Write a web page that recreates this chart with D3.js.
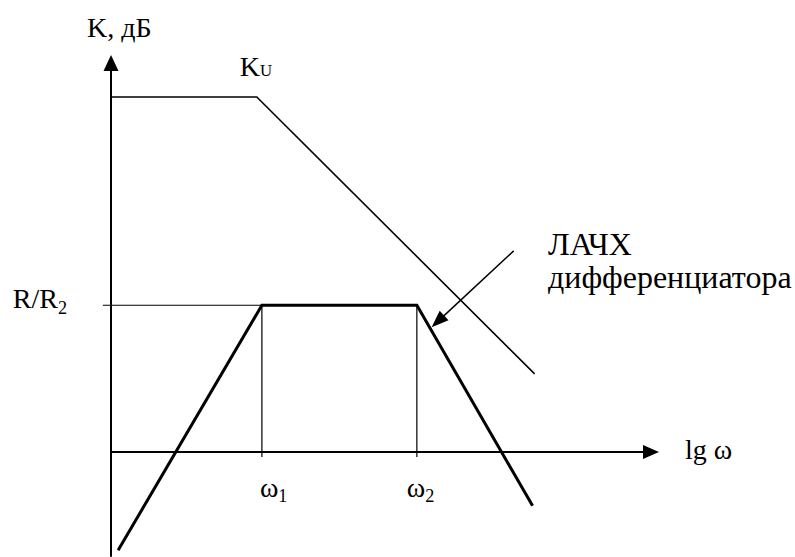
<!DOCTYPE html>
<html><head><meta charset="utf-8">
<script src="https://cdn.jsdelivr.net/npm/d3@7/dist/d3.min.js"></script>
<style>html,body{margin:0;padding:0;background:#fff;} text{font-family:"Liberation Serif","Times New Roman",serif;fill:#000;}</style>
</head><body>
<svg id="c" width="795" height="557"></svg>
<script>
// ---- data (abstract units: x = lg ω, y = K, dB) ----
const xAxisRange = [0, 10.75];
const yAxisRange = [-17.7, 67.1];
const omegaTicks = [2.96, 6.0];
const omegaLabels = ["1", "2"];
const kuLevel = 60;
const rrLevel = 24.8;
const kuLineX = [0, 2.86, 8.31];
const kuLineY = [60, 60, 13.2];
const lachX = [0.14, 2.96, 6.0, 8.27];
const lachY = [-16.6, 24.8, 24.8, -9.1];
const arrowFrom = [7.9, 34.0];
const arrowTo = [6.29, 21.1];

const svg = d3.select("#c");
const x = d3.scaleLinear().domain([0, 10.75]).range([111, 659]);
const y = d3.scaleLinear().domain([0, 67.1]).range([452, 55]);

function arrowHead(tip, angle, len, half) {
  const ca = Math.cos(angle), sa = Math.sin(angle);
  const bx = tip[0] - len * ca, by = tip[1] - len * sa;
  return [[tip[0], tip[1]], [bx - half * sa, by + half * ca], [bx + half * sa, by - half * ca]];
}
const tri = d3.line();

// y axis
svg.append("line").attr("x1", x(0)).attr("x2", x(0))
  .attr("y1", y(yAxisRange[0])).attr("y2", y(yAxisRange[1]) + 10)
  .attr("stroke", "#000").attr("stroke-width", 2);
svg.append("path").attr("d", tri(arrowHead([x(0), y(yAxisRange[1])], -Math.PI / 2, 16, 7.5)) + "Z").attr("fill", "#000");
// x axis
svg.append("line").attr("x1", x(0)).attr("x2", x(xAxisRange[1]) - 10)
  .attr("y1", y(0)).attr("y2", y(0)).attr("stroke", "#000").attr("stroke-width", 2);
svg.append("path").attr("d", tri(arrowHead([x(xAxisRange[1]), y(0)], 0, 16, 7)) + "Z").attr("fill", "#000");

// R/R2 level thin line with tick
svg.append("line").attr("x1", x(-0.16)).attr("x2", x(omegaTicks[0]) + 8)
  .attr("y1", y(rrLevel)).attr("y2", y(rrLevel)).attr("stroke", "#000").attr("stroke-width", 1.2);
// omega verticals
svg.selectAll(".om").data(omegaTicks).join("line")
  .attr("x1", d => x(d)).attr("x2", d => x(d))
  .attr("y1", y(rrLevel)).attr("y2", y(-0.85))
  .attr("stroke", "#000").attr("stroke-width", 1.2);

// K_U line
svg.append("path").datum(kuLineX.map((v, i) => [x(v), y(kuLineY[i])]))
  .attr("d", d3.line()).attr("fill", "none").attr("stroke", "#000").attr("stroke-width", 1.6);

// LACH differentiator (thick)
svg.append("path").datum(lachX.map((v, i) => [x(v), y(lachY[i])]))
  .attr("d", d3.line()).attr("fill", "none").attr("stroke", "#000").attr("stroke-width", 3).attr("stroke-linejoin", "miter");

// annotation arrow
const a0 = [x(arrowFrom[0]), y(arrowFrom[1])], a1 = [x(arrowTo[0]), y(arrowTo[1])];
const ang = Math.atan2(a1[1] - a0[1], a1[0] - a0[0]);
svg.append("line").attr("x1", a0[0]).attr("y1", a0[1])
  .attr("x2", a1[0] - 10 * Math.cos(ang)).attr("y2", a1[1] - 10 * Math.sin(ang))
  .attr("stroke", "#000").attr("stroke-width", 1.5);
svg.append("path").attr("d", tri(arrowHead(a1, ang, 17, 6.5)) + "Z").attr("fill", "#000");

// labels
const fs = 28;
const ff = "Liberation Serif";
function T(sel) { return sel.append("text").attr("font-family", ff).attr("font-size", fs); }
T(svg).attr("x", x(0) - 24).attr("y", 37).text("K, дБ");
const ku = T(svg).attr("x", x(kuLineX[1]) - 17).attr("y", y(kuLevel) - 21);
ku.append("tspan").text("K");
ku.append("tspan").attr("font-size", fs * 0.6).text("U");
const rr = T(svg).attr("x", x(0) - 44).attr("y", y(rrLevel) + 3).attr("text-anchor", "end");
rr.append("tspan").text("R/R");
rr.append("tspan").attr("font-size", fs * 0.65).attr("dy", 6).text("2");
svg.selectAll(".oml").data(omegaTicks).join("text")
  .attr("font-family", ff).attr("font-size", fs)
  .attr("x", d => x(d) - 2 - (d > 5 ? 8 : 0)).attr("y", y(0) + 45)
  .each(function (d, i) {
    const t = d3.select(this);
    t.append("tspan").text("ω");
    t.append("tspan").attr("font-size", fs * 0.65).attr("dy", 5).text(omegaLabels[i]);
  });
T(svg).attr("x", x(xAxisRange[1]) + 26).attr("y", y(0) + 7).text("lg ω");
T(svg).attr("x", 548).attr("y", 255).attr("font-size", 32).text("ЛАЧХ");
T(svg).attr("x", 548).attr("y", 288).attr("font-size", 32).text("дифференциатора");
</script>
</body></html>
